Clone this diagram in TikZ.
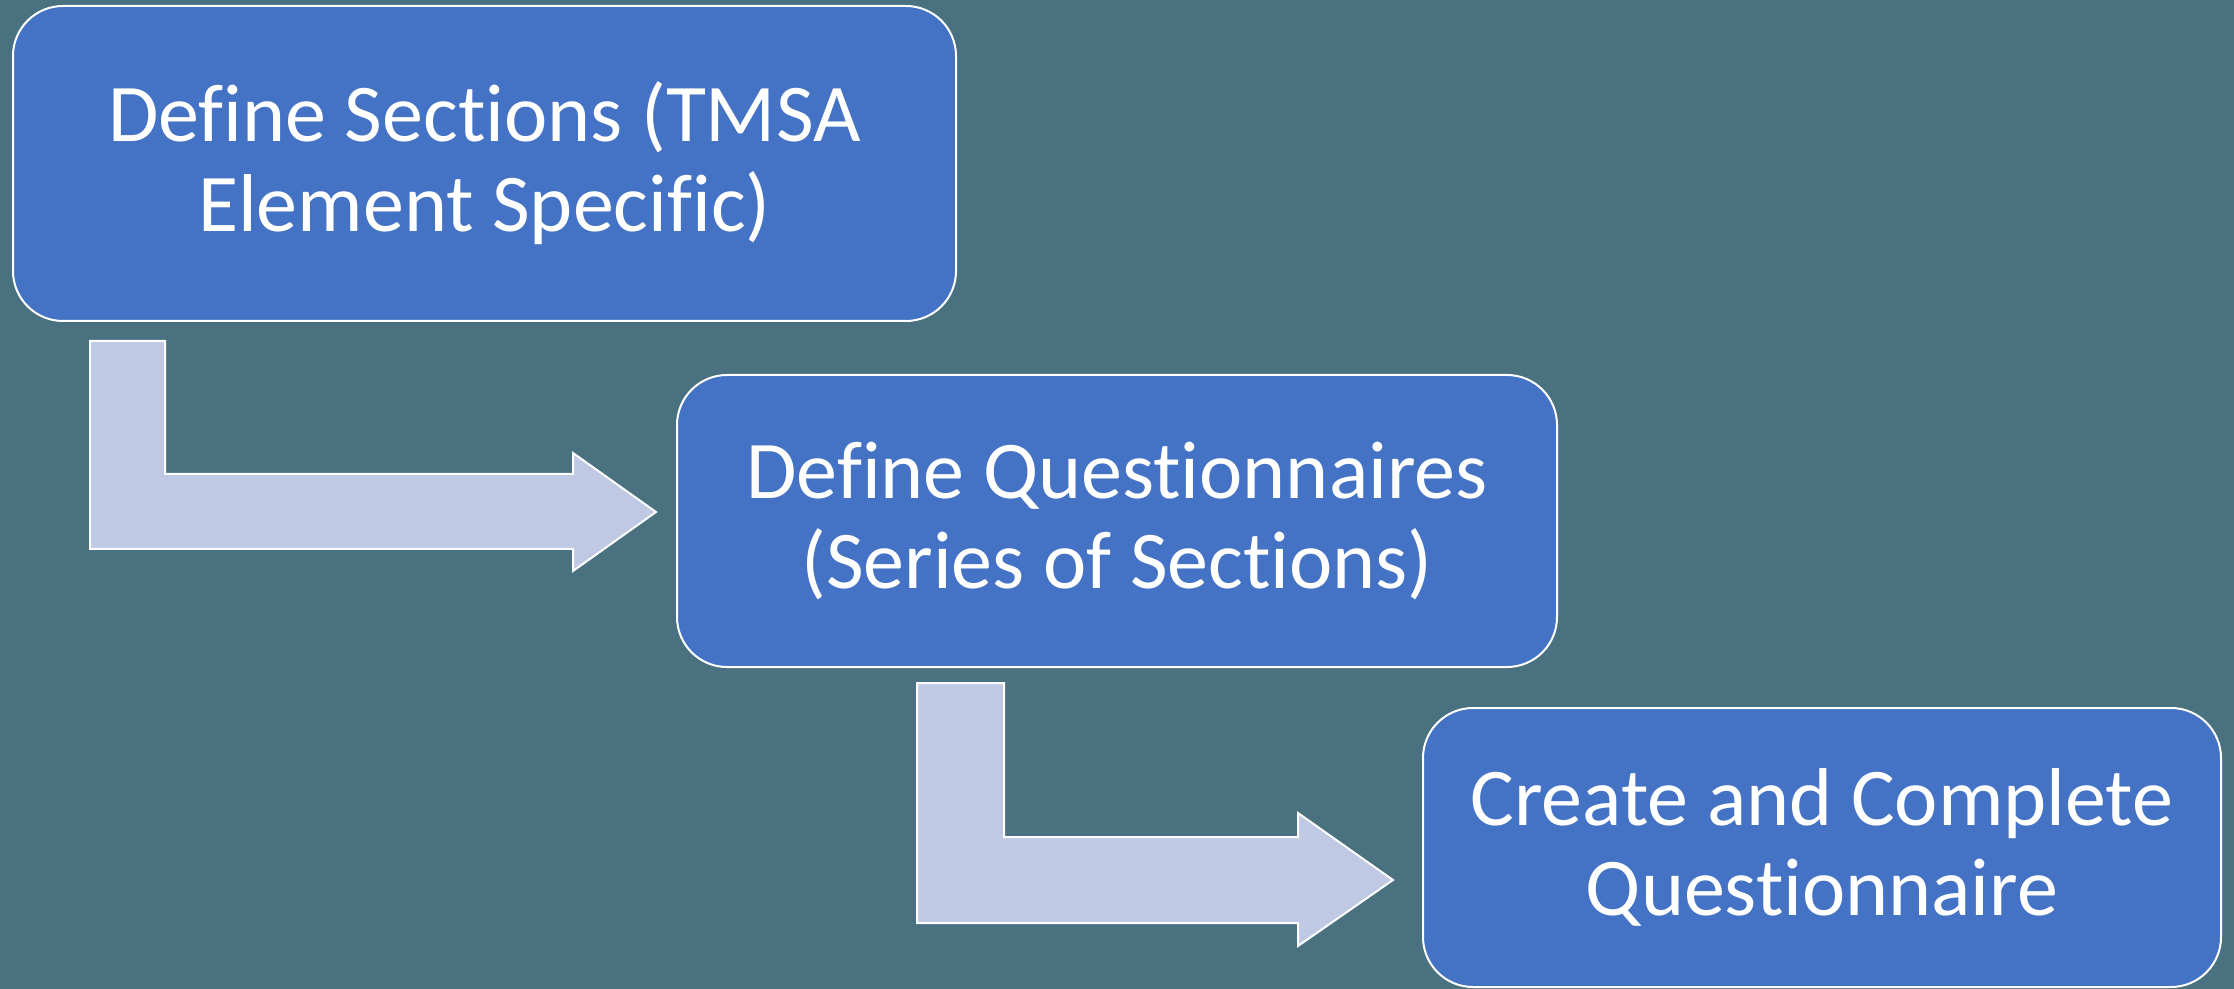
\documentclass[tikz,border=0pt]{standalone}
\usepackage{fontspec}
\setmainfont{Carlito}[Ligatures=NoCommon]

\definecolor{slate}{HTML}{4A7180}
\definecolor{boxblue}{HTML}{4472C4}
\definecolor{arrowfill}{HTML}{BFC9E3}

\begin{document}
\begin{tikzpicture}[x=0.5pt, y=-0.5pt,
  stepbox/.style={draw=white, line width=1pt, fill=boxblue, rounded corners=25pt,
    text=white, align=center, inner sep=0pt,
    font=\fontsize{41}{45}\selectfont},
  bentarrow/.style={draw=white, line width=1pt, fill=arrowfill, line join=miter}]

\useasboundingbox (0,0) rectangle (2234,989);
\fill[slate] (0,0) rectangle (2234,989);

\node[stepbox, minimum width=471.5pt, minimum height=157.5pt] (sections) at (484.5,163.5)
  {Define Sections (TMSA\\Element Specific)};
\node[stepbox, minimum width=440pt, minimum height=146pt] (questionnaires) at (1117,521)
  {Define Questionnaires\\(Series of Sections)};
\node[stepbox, minimum width=399pt, minimum height=139.5pt] (complete) at (1822,847.5)
  {Create and Complete\\Questionnaire};

% -------- bent arrows -----------
\draw[bentarrow] (90,341) -- (165,341) -- (165,474) -- (573,474) -- (573,453)
  -- (656,512) -- (573,571) -- (573,549) -- (90,549) -- cycle;
\draw[bentarrow] (917,683) -- (1004,683) -- (1004,837) -- (1298,837) -- (1298,813)
  -- (1393,880) -- (1298,946) -- (1298,923) -- (917,923) -- cycle;

\end{tikzpicture}
\end{document}
